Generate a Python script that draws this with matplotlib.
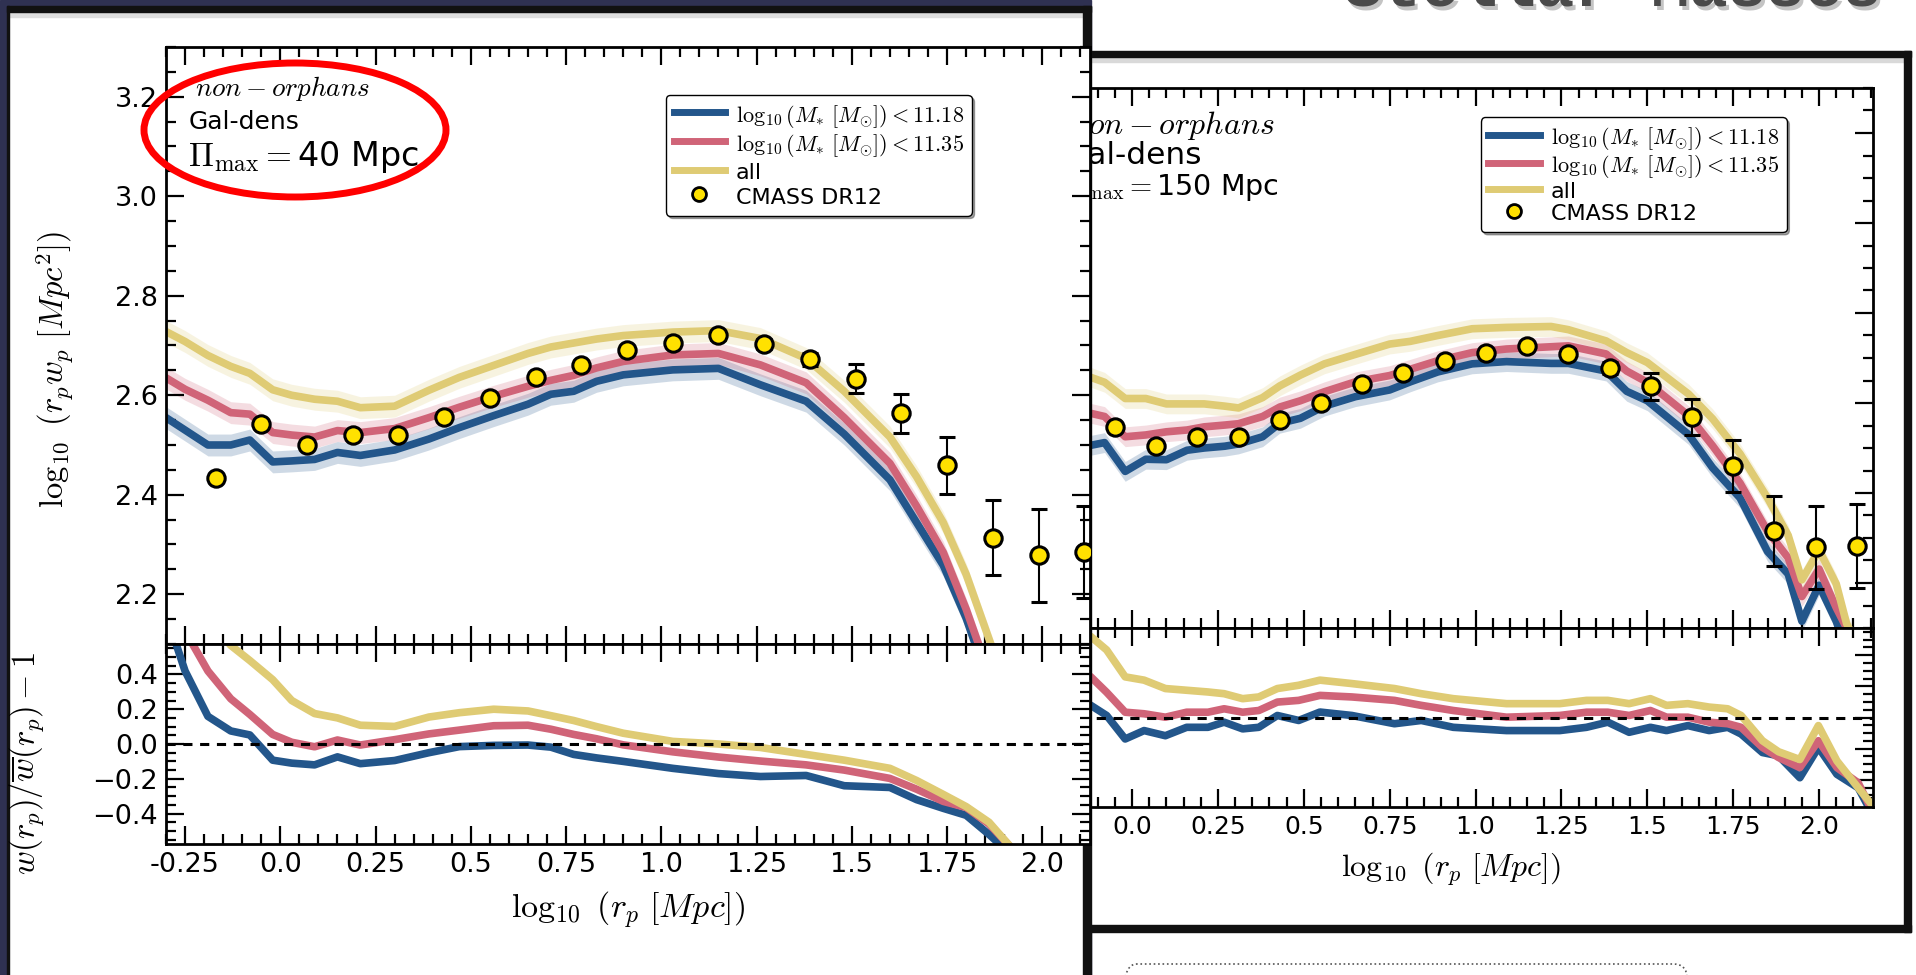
import matplotlib.pyplot as plt
from matplotlib.patches import Rectangle, Ellipse, FancyBboxPatch
from matplotlib.lines import Line2D
from matplotlib.ticker import MultipleLocator, FixedLocator

plt.rcParams['mathtext.fontset'] = 'cm'
plt.rcParams['font.family'] = ['DejaVu Sans']

W, H = 1916, 975

# CMASS DR12 measurements (log10 r_p w_p)
cmass_x = [-0.17, -0.05, 0.07, 0.19, 0.31, 0.43, 0.55, 0.67, 0.79, 0.91,
           1.03, 1.15, 1.27, 1.39, 1.51, 1.63, 1.75, 1.87, 1.99, 2.11]
cmass_pi40 = [2.434, 2.543, 2.500, 2.520, 2.520, 2.556, 2.594, 2.636, 2.661, 2.690,
              2.706, 2.721, 2.703, 2.672, 2.633, 2.564, 2.459, 2.314, 2.278, 2.285]
cmass_pi40_err = [0.006, 0.005, 0.005, 0.005, 0.005, 0.005, 0.006, 0.006, 0.007, 0.007,
                  0.008, 0.009, 0.010, 0.013, 0.029, 0.039, 0.057, 0.076, 0.093, 0.092]
cmass_pi150 = [2.440, 2.547, 2.505, 2.525, 2.524, 2.562, 2.599, 2.642, 2.667, 2.694,
               2.712, 2.727, 2.709, 2.678, 2.637, 2.568, 2.460, 2.315, 2.279, 2.283]
cmass_pi150_err = [0.006, 0.005, 0.005, 0.005, 0.005, 0.005, 0.006, 0.006, 0.007, 0.007,
                   0.008, 0.009, 0.010, 0.014, 0.030, 0.040, 0.058, 0.078, 0.093, 0.093]

# mocks, pi_max = 40 Mpc
mock40_x = [-0.30, -0.25, -0.19, -0.13, -0.08, -0.02, 0.03, 0.09, 0.15, 0.21,
            0.30, 0.39, 0.47, 0.56, 0.65, 0.71, 0.77, 0.83, 0.90, 1.03,
            1.15, 1.26, 1.38, 1.48, 1.60, 1.67, 1.74, 1.80, 1.86, 1.92]
mock40_lo = [2.555, 2.530, 2.500, 2.500, 2.510, 2.466, 2.468, 2.471, 2.485, 2.479,
             2.490, 2.512, 2.535, 2.559, 2.582, 2.602, 2.608, 2.628, 2.641, 2.651,
             2.654, 2.621, 2.588, 2.522, 2.430, 2.344, 2.258, 2.152, 2.020, 1.900]
mock40_mid = [2.635, 2.612, 2.590, 2.565, 2.562, 2.525, 2.520, 2.516, 2.529, 2.525,
              2.533, 2.555, 2.576, 2.598, 2.618, 2.630, 2.640, 2.655, 2.668, 2.681,
              2.684, 2.661, 2.625, 2.555, 2.463, 2.377, 2.284, 2.170, 2.040, 1.920]
mock40_all = [2.728, 2.708, 2.680, 2.658, 2.644, 2.611, 2.600, 2.592, 2.588, 2.575,
              2.578, 2.610, 2.636, 2.660, 2.684, 2.697, 2.705, 2.713, 2.720, 2.727,
              2.730, 2.714, 2.674, 2.608, 2.516, 2.436, 2.344, 2.240, 2.110, 1.980]
ratio40_lo = [0.75, 0.42, 0.159, 0.075, 0.052, -0.093, -0.11, -0.12, -0.074, -0.113,
              -0.095, -0.05, -0.015, -0.008, -0.006, -0.018, -0.06, -0.08, -0.10, -0.14,
              -0.17, -0.187, -0.181, -0.24, -0.25, -0.32, -0.37, -0.41, -0.52, -0.64]
ratio40_mid = [0.90, 0.65, 0.42, 0.26, 0.17, 0.055, 0.01, -0.016, 0.023, -0.006,
               0.025, 0.058, 0.08, 0.105, 0.108, 0.085, 0.055, 0.03, -0.005, -0.045,
               -0.075, -0.098, -0.12, -0.15, -0.198, -0.26, -0.33, -0.365, -0.46, -0.60]
ratio40_all = [1.05, 0.90, 0.72, 0.567, 0.48, 0.37, 0.25, 0.175, 0.15, 0.108,
               0.101, 0.155, 0.18, 0.20, 0.19, 0.163, 0.135, 0.10, 0.062, 0.015,
               0.0, -0.02, -0.06, -0.093, -0.14, -0.21, -0.29, -0.36, -0.45, -0.60]

# mocks, pi_max = 150 Mpc
mock150_x = [-0.30, -0.20, -0.12, -0.08, -0.02, 0.04, 0.10, 0.16, 0.21, 0.27,
             0.31, 0.38, 0.43, 0.49, 0.56, 0.65, 0.75, 0.81, 0.89, 0.99,
             1.09, 1.22, 1.27, 1.38, 1.44, 1.50, 1.62, 1.69, 1.77, 1.85,
             1.91, 1.95, 2.00, 2.05, 2.08, 2.12]
mock150_lo = [2.530, 2.520, 2.506, 2.512, 2.448, 2.475, 2.474, 2.495, 2.500, 2.504,
              2.509, 2.525, 2.555, 2.566, 2.593, 2.614, 2.629, 2.647, 2.669, 2.687,
              2.692, 2.688, 2.688, 2.671, 2.626, 2.605, 2.530, 2.456, 2.389, 2.270,
              2.220, 2.115, 2.195, 2.115, 2.050, 1.980]
mock150_mid = [2.600, 2.590, 2.577, 2.570, 2.525, 2.529, 2.536, 2.540, 2.547, 2.551,
               2.554, 2.570, 2.591, 2.605, 2.625, 2.647, 2.661, 2.675, 2.694, 2.712,
               2.720, 2.725, 2.727, 2.709, 2.671, 2.646, 2.572, 2.505, 2.422, 2.315,
               2.256, 2.170, 2.231, 2.145, 2.100, 2.030]
mock150_all = [2.700, 2.680, 2.657, 2.646, 2.610, 2.610, 2.598, 2.598, 2.598, 2.593,
               2.589, 2.612, 2.638, 2.662, 2.687, 2.708, 2.731, 2.737, 2.750, 2.765,
               2.768, 2.770, 2.763, 2.738, 2.712, 2.690, 2.620, 2.565, 2.487, 2.389,
               2.306, 2.207, 2.273, 2.198, 2.110, 2.050]
ratio150_x = [-0.30, -0.20, -0.12, -0.074, -0.02, 0.035, 0.097, 0.159, 0.221, 0.268,
              0.322, 0.369, 0.423, 0.485, 0.547, 0.64, 0.764, 0.842, 0.935, 1.09,
              1.245, 1.323, 1.385, 1.447, 1.509, 1.556, 1.618, 1.68, 1.734, 1.773,
              1.835, 1.882, 1.944, 1.998, 2.052, 2.114, 2.15]
ratio150_lo = [0.30, 0.14, 0.078, 0.013, -0.138, -0.084, -0.117, -0.063, -0.063, -0.030,
               -0.073, -0.063, 0.013, -0.019, 0.035, 0.013, -0.04, -0.019, -0.063, -0.084,
               -0.084, -0.063, -0.030, -0.095, -0.063, -0.084, -0.052, -0.084, -0.063, -0.106,
               -0.225, -0.246, -0.387, -0.192, -0.365, -0.452, -0.60]
ratio150_mid = [0.55, 0.38, 0.261, 0.162, 0.034, 0.024, 0.002, 0.034, 0.034, 0.056,
                0.034, 0.045, 0.099, 0.11, 0.142, 0.132, 0.11, 0.078, 0.045, 0.002,
                0.013, 0.034, 0.034, 0.013, 0.045, 0.002, 0.002, -0.03, -0.04, -0.063,
                -0.192, -0.257, -0.322, -0.149, -0.322, -0.42, -0.58]
ratio150_all = [0.75, 0.62, 0.52, 0.434, 0.261, 0.24, 0.186, 0.175, 0.164, 0.153,
                0.121, 0.132, 0.186, 0.207, 0.24, 0.218, 0.186, 0.153, 0.121, 0.089,
                0.089, 0.11, 0.11, 0.089, 0.121, 0.078, 0.089, 0.067, 0.056, 0.013,
                -0.149, -0.22, -0.27, -0.052, -0.279, -0.452, -0.55]

sample_labels = [r'$\log_{10}(M_{*}\ [M_{\odot}]) < 11.18$',
                 r'$\log_{10}(M_{*}\ [M_{\odot}]) < 11.35$',
                 'all']
sample_colors = ['#23568b', '#d06478', '#dfcb74']
xtick_vals = [-0.25, 0.0, 0.25, 0.5, 0.75, 1.0, 1.25, 1.5, 1.75, 2.0]
xtick_text = ['-0.25', '0.0', '0.25', '0.5', '0.75', '1.0', '1.25', '1.5', '1.75', '2.0']
ytop_vals = [2.2, 2.4, 2.6, 2.8, 3.0, 3.2]
ybot_vals = [-0.4, -0.2, 0.0, 0.2, 0.4]
ybot_text = ['\u22120.4', '\u22120.2', '0.0', '0.2', '0.4']


fig = plt.figure(figsize=(W / 100, H / 100), dpi=100)
fig.patch.set_facecolor('white')


def px_axes(x0, y0, x1, y1, z):
    ax = fig.add_axes([x0 / W, 1 - y1 / H, (x1 - x0) / W, (y1 - y0) / H])
    ax.set_zorder(z)
    return ax


def overlay(z):
    ax = px_axes(0, 0, W, H, z)
    ax.set_xlim(0, W)
    ax.set_ylim(H, 0)
    ax.axis('off')
    ax.patch.set_alpha(0)
    return ax


def style(ax, fs, ylim, yvals, ytext):
    ax.set_ylim(*ylim)
    ax.xaxis.set_major_locator(FixedLocator(xtick_vals))
    ax.xaxis.set_minor_locator(MultipleLocator(0.05))
    ax.yaxis.set_major_locator(FixedLocator(yvals))
    ax.set_yticklabels(ytext)
    ax.yaxis.set_minor_locator(MultipleLocator(0.05))
    ax.tick_params(which='both', direction='in', top=True, right=True,
                   labelsize=fs, width=1.6, pad=6)
    ax.tick_params(which='major', length=13)
    ax.tick_params(which='minor', length=7)
    for s in ax.spines.values():
        s.set_linewidth(2)


def draw_panel(x0, x1, y0, ymid, y1, xmax, fs, cmass, cmass_err, mx, models,
               rx, ratios, pimax, leg_anchor, leg_fs, leg_rows, text_x, text_fs, z):
    top = px_axes(x0, y0, x1, ymid, z)
    bot = px_axes(x0, ymid, x1, y1, z)

    for m, c in zip(models, sample_colors):
        lo = [v - 0.022 for v in m]
        hi = [v + 0.022 for v in m]
        top.fill_between(mx, lo, hi, color=c, alpha=0.22, lw=0)
    for m, c, lab in zip(models, sample_colors, sample_labels):
        top.plot(mx, m, color=c, lw=5.5, solid_joinstyle='round', label=lab)
    top.errorbar(cmass_x, cmass, yerr=cmass_err, fmt='o', ms=12.5,
                 mfc='#ffe100', mec='black', mew=2.2, ecolor='black',
                 elinewidth=1.5, capsize=6, capthick=1.5, zorder=5,
                 label='CMASS DR12')

    for r, c in zip(ratios, sample_colors):
        bot.plot(rx, r, color=c, lw=5.5, solid_joinstyle='round')
    bot.axhline(0.0, color='black', lw=2.2, ls=(0, (3, 2.5)))

    style(top, fs, (2.1, 3.3), ytop_vals, [f'{v:.1f}' for v in ytop_vals])
    style(bot, fs, (-0.575, 0.575), ybot_vals, ybot_text)
    top.set_xticklabels([])
    bot.set_xticklabels(xtick_text)
    top.set_xlim(-0.3, xmax)
    bot.set_xlim(-0.3, xmax)

    top.set_ylabel(r'$\log_{10}\ (r_p w_p\ [Mpc^2])$', fontsize=fs + 4)
    bot.set_ylabel(r'$w(r_p)/\overline{w}(r_p) - 1$', fontsize=fs + 4)
    top.yaxis.set_label_coords(-0.098, 0.46)
    bot.yaxis.set_label_coords(-0.13, 0.4)
    bot.set_xlabel(r'$\log_{10}\ (r_p\ [Mpc])$', fontsize=fs + 5, labelpad=8)

    fs_orph, fs_gal, fs_pi = text_fs
    top.text(text_x + 0.007, 0.93, r'$non-orphans$', transform=top.transAxes,
             fontsize=fs_orph, va='center')
    top.text(text_x, 0.875, 'Gal-dens', transform=top.transAxes,
             fontsize=fs_gal, va='center')
    top.text(text_x, 0.815, r'$\Pi_{\rm max} = $' + f'{pimax} Mpc',
             transform=top.transAxes, fontsize=fs_pi, va='center')

    handles = [Line2D([], [], color=c, lw=5) for c in sample_colors]
    handles.append(Line2D([], [], ls='none', marker='o', ms=10, mfc='#ffe100',
                          mec='black', mew=2))
    row_h, row_gap = leg_rows
    top.legend(handles, sample_labels + ['CMASS DR12'], loc='upper right',
               bbox_to_anchor=leg_anchor, borderaxespad=0, fontsize=leg_fs,
               fancybox=True, shadow=True, framealpha=1, edgecolor='black',
               handlelength=2.3, handletextpad=0.5, handleheight=row_h,
               labelspacing=row_gap, borderpad=0.35)
    return top, bot


# slide background
bg = overlay(0)
bg.add_patch(Rectangle((0, 0), 1091, H, color='#2f3152'))
bg.add_patch(Rectangle((1091, 51), 820, 881, facecolor='white', edgecolor='none'))
bg.add_patch(Rectangle((1091, 57), 813, 5, color='#d9d9d9'))
bg.add_patch(Rectangle((1091, 51), 820, 6, color='#111111'))
bg.add_patch(Rectangle((1904, 51), 7, 881, color='#111111'))
bg.add_patch(Rectangle((1091, 925), 820, 7, color='#111111'))
bg.text(1616, 9, 'Stellar Masses', ha='center', va='baseline', fontsize=46,
        family='Liberation Mono', weight='bold', color='#c4c4c4')
bg.text(1613, 6, 'Stellar Masses', ha='center', va='baseline', fontsize=46,
        family='Liberation Mono', weight='bold', color='#4a4a4a')
bg.add_patch(FancyBboxPatch((1122, 964), 565, 60,
                            boxstyle='round,pad=0,rounding_size=14',
                            facecolor='none', edgecolor='#555555', lw=1.2, ls=':'))

# pi_max = 150 Mpc panel (behind)
draw_panel(1029, 1873, 88, 628, 807, 2.157, 18,
           cmass_pi150, cmass_pi150_err, mock150_x,
           [mock150_lo, mock150_mid, mock150_all],
           ratio150_x, [ratio150_lo, ratio150_mid, ratio150_all],
           150, (0.8976, 0.9457), 16, (1.05, 0.02), 0.04, (23, 22.5, 20.5), 1)

# left screenshot frame
cover = overlay(2)
cover.add_patch(Rectangle((8, 7), 1083, H, facecolor='white', edgecolor='none'))
cover.add_patch(Rectangle((8, 12), 1075, 5, color='#dedede'))
cover.add_patch(Rectangle((7, 6), 1084, 6, color='#111111'))
cover.add_patch(Rectangle((1083, 6), 8, H, color='#111111'))
cover.add_patch(Rectangle((7, 6), 2, H, color='#111111'))

# pi_max = 40 Mpc panel (front)
draw_panel(166, 1090, 47, 644, 844, 2.125, 19.5,
           cmass_pi40, cmass_pi40_err, mock40_x,
           [mock40_lo, mock40_mid, mock40_all],
           mock40_x, [ratio40_lo, ratio40_mid, ratio40_all],
           40, (0.872, 0.9196), 16, (1.2, 0.08), 0.024, (19.5, 18, 24), 3)

# highlight
hl = overlay(5)
hl.add_patch(Ellipse((295, 130), 302, 134, facecolor='none', edgecolor='#ff0000', lw=5))

fig.savefig('out.png', dpi=100)
